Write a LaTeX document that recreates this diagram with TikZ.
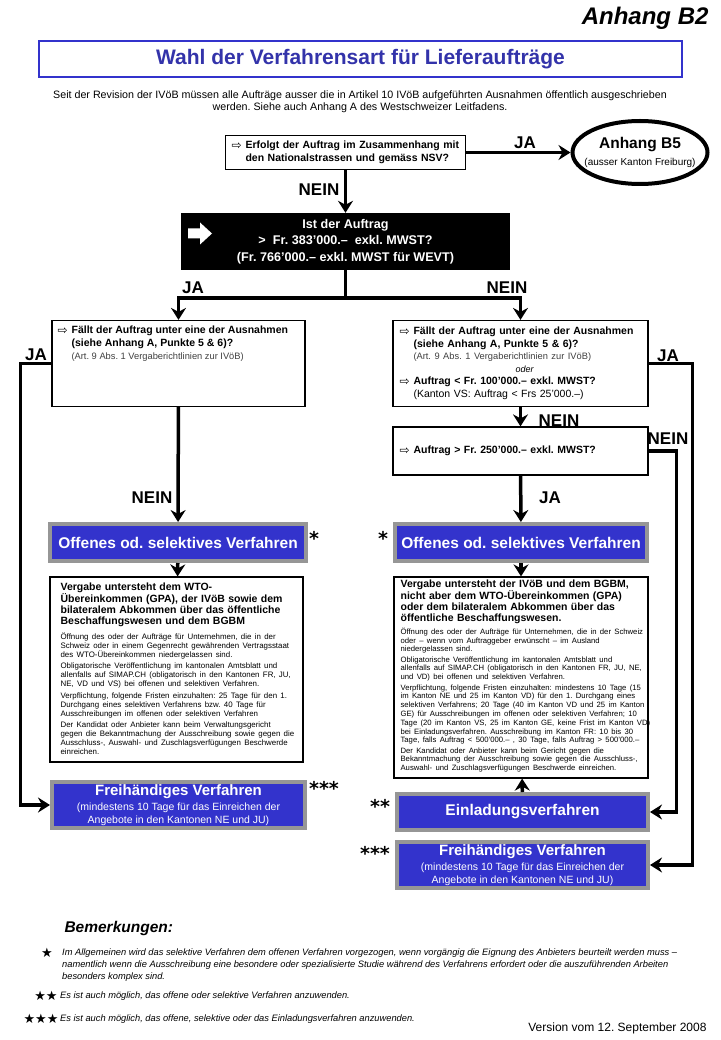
\documentclass[tikz,border=0pt]{standalone}
\usepackage{fontspec}
\setmainfont{Liberation Sans}
\newfontfamily\symfont{DejaVu Sans}
\usetikzlibrary{arrows.meta,shapes.geometric}
\definecolor{procblue}{RGB}{51,51,204}
\definecolor{procgray}{RGB}{150,150,150}
\definecolor{titleblue}{RGB}{51,51,170}
\newcommand{\fs}[2]{\fontsize{#1}{#2}\selectfont}
\newcommand{\hint}{\makebox[14pt][l]{\mdseries\symfont\fs{12}{12}\raisebox{-0.5pt}{⇨}}}
\newcommand{\ind}{\hspace*{14pt}}
\setlength{\parindent}{0pt}
\frenchspacing

\begin{document}
\begin{tikzpicture}[x=1pt, y=-1pt,
  qbox/.style={draw, line width=1.2pt, fill=white, inner sep=0pt},
  info/.style={draw, line width=1.2pt, inner sep=0pt},
  txt/.style={inner sep=0pt, anchor=north west, align=left},
  proc/.style={draw=procgray, line width=4pt, fill=procblue, text=white,
    inner sep=0pt, align=center},
  lbl/.style={font=\bfseries\fs{17}{17}, inner sep=0pt},
  star/.style={font=\symfont\bfseries\fs{19}{19}, inner sep=0pt},
  wire/.style={line width=3.5pt},
  flow/.style={wire, -{Stealth[length=12pt, width=15pt, inset=4pt]}}]
\fill[white] (0,0) rectangle (720,1040);
% header
\node[font=\bfseries\itshape\fs{24}{24}, anchor=east] (appx) at (712,18) {Anhang B2};
\node[draw=procblue, line width=2pt, minimum width=643pt, minimum height=36pt,
  text=titleblue, font=\bfseries\fs{21}{21}] (title) at (360.5,59)
  {Wahl der Verfahrensart für Lieferaufträge};
\node[align=center, font=\fs{10.7}{11.5}] (intro) at (360,101.5)
  {Seit der Revision der IVöB müssen alle Aufträge ausser die in Artikel 10 IVöB aufgeführten Ausnahmen öffentlich ausgeschrieben\\
   werden. Siehe auch Anhang A des Westschweizer Leitfadens.};
% first questions
\node[qbox, minimum width=240pt, minimum height=34pt, text width=228pt, align=left,
  font=\bfseries\fs{10.5}{13}] (nsv) at (345.5,152.5)
  {\hint Erfolgt der Auftrag im Zusammenhang mit\\
   \ind den Nationalstrassen und gemäss NSV?};
\node[ellipse, draw, line width=4pt, minimum width=135pt, minimum height=63pt,
  inner sep=0pt] (b5) at (640,152.5) {};
\node[align=center, inner sep=0pt, font=\fs{10}{17}] (b5Txt) at (b5.center)
  {{\bfseries\fs{15.5}{17}Anhang B5}\\ (ausser Kanton Freiburg)};
\node[fill=black, minimum width=329pt, minimum height=57pt, text=white, align=center,
  font=\bfseries\fs{12.6}{16.5}] (limit) at (345.5,241.5)
  {Ist der Auftrag\\ >\ \ Fr. 383’000.–\ \ exkl. MWST?\\ (Fr. 766’000.– exkl. MWST für WEVT)};
% white block arrow in the black box
\fill[white] (188,228.5) -- (200,228.5) -- (200,222.5) -- (212,233.5) -- (200,244.5)
  -- (200,238.5) -- (188,238.5) -- cycle;
\coordinate (split) at (345.5,298);
% exceptions
\node[qbox, minimum width=253pt, minimum height=86pt] (exLeft) at (178.5,363.5) {};
\node[txt, font=\bfseries\fs{10.5}{12.7}] (exLeftTxt) at ([xshift=6pt, yshift=-6pt]exLeft.north west)
  {\hint Fällt der Auftrag unter eine der Ausnahmen\\
   \ind (siehe Anhang A, Punkte 5 \& 6)?\\
   \ind{\mdseries\color{darkgray}\fs{9.3}{12.7}(Art. 9 Abs. 1 Vergaberichtlinien zur IVöB)}};
\node[qbox, minimum width=255pt, minimum height=86pt, text width=242pt, align=left,
  font=\bfseries\fs{10.5}{12.5}] (exRight) at (520.5,363.5)
  {\hint Fällt der Auftrag unter eine der Ausnahmen\\
   \ind (siehe Anhang A, Punkte 5 \& 6)?\\
   \ind{\mdseries\color{darkgray}\fs{9.3}{12.5}(Art. 9 Abs. 1 Vergaberichtlinien zur IVöB)}\\
   \makebox[250pt]{\mdseries\itshape\fs{9}{12.5}oder}\\
   \hint Auftrag < Fr. 100’000.– exkl. MWST?\\
   \ind{\mdseries\fs{10.5}{12.5}(Kanton VS: Auftrag < Frs 25’000.–)}};
\node[qbox, minimum width=255pt, minimum height=48pt, text width=242pt, align=left,
  font=\bfseries\fs{10.5}{12.5}] (thresh) at (520.5,451)
  {\hint Auftrag > Fr. 250’000.– exkl. MWST?};
% procedures
\node[proc, minimum width=256pt, minimum height=37pt, font=\bfseries\fs{15.5}{18}] (offL) at (178,542.5)
  {Offenes od. selektives Verfahren};
\node[proc, minimum width=252pt, minimum height=37pt, font=\bfseries\fs{15.5}{18}] (offR) at (521,542.5)
  {Offenes od. selektives Verfahren};
\node[info, minimum width=253pt, minimum height=185pt] (infoL) at (176.5,669.5) {};
\node[txt, text width=250pt] (infoLTxt) at ([xshift=11pt, yshift=-6pt]infoL.north west)
  {{\bfseries\fs{10.5}{11}Vergabe untersteht dem WTO-\\
    Übereinkommen (GPA), der IVöB sowie dem\\
    bilateralem Abkommen über das öffentliche\\
    Beschaffungswesen und dem BGBM\par}
   \vspace{6pt}
   {\fs{7.9}{9}Öffnung des oder der Aufträge für Unternehmen, die in der\\
    Schweiz oder in einem Gegenrecht gewährenden Vertragsstaat\\
    des WTO-Übereinkommen niedergelassen sind.\par
    \vspace{2.5pt}
    Obligatorische Veröffentlichung im kantonalen Amtsblatt und\\
    allenfalls auf SIMAP.CH (obligatorisch in den Kantonen FR, JU,\\
    NE, VD und VS) bei offenen und selektiven Verfahren.\par
    \vspace{2.5pt}
    Verpflichtung, folgende Fristen einzuhalten: 25 Tage für den 1.\\
    Durchgang eines selektiven Verfahrens bzw. 40 Tage für\\
    Ausschreibungen im offenen oder selektiven Verfahren\par
    \vspace{2.5pt}
    Der Kandidat oder Anbieter kann beim Verwaltungsgericht\\
    gegen die Bekanntmachung der Ausschreibung sowie gegen die\\
    Ausschluss-, Auswahl- und Zuschlagsverfügungen Beschwerde\\
    einreichen.\par}};
\node[info, minimum width=254pt, minimum height=201pt] (infoR) at (521,677.5) {};
\node[txt, text width=260pt] (infoRTxt) at ([xshift=7pt, yshift=-3pt]infoR.north west)
  {{\bfseries\fs{10.5}{11}Vergabe untersteht der IVöB und dem BGBM,\\
    nicht aber dem WTO-Übereinkommen (GPA)\\
    oder dem bilateralem Abkommen über das\\
    öffentliche Beschaffungswesen.\par}
   \vspace{4pt}
   {\fs{7.7}{8.8}Öffnung des oder der Aufträge für Unternehmen, die in der Schweiz\\
    oder – wenn vom Auftraggeber erwünscht – im Ausland\\
    niedergelassen sind.\par
    \vspace{1.5pt}
    Obligatorische Veröffentlichung im kantonalen Amtsblatt und\\
    allenfalls auf SIMAP.CH (obligatorisch in den Kantonen FR, JU, NE,\\
    und VD) bei offenen und selektiven Verfahren.\par
    \vspace{1.5pt}
    Verpflichtung, folgende Fristen einzuhalten: mindestens 10 Tage (15\\
    im Kanton NE und 25 im Kanton VD) für den 1. Durchgang eines\\
    selektiven Verfahrens; 20 Tage (40 im Kanton VD und 25 im Kanton\\
    GE) für Ausschreibungen im offenen oder selektiven Verfahren; 10\\
    Tage (20 im Kanton VS, 25 im Kanton GE, keine Frist im Kanton VD)\\
    bei Einladungsverfahren. Ausschreibung im Kanton FR: 10 bis 30\\
    Tage, falls Auftrag < 500’000.– , 30 Tage, falls Auftrag > 500’000.–\par
    \vspace{1.5pt}
    Der Kandidat oder Anbieter kann beim Gericht gegen die\\
    Bekanntmachung der Ausschreibung sowie gegen die Ausschluss-,\\
    Auswahl- und Zuschlagsverfügungen Beschwerde einreichen.\par}};
\node[proc, minimum width=253pt, minimum height=46pt, font=\fs{10.5}{13}] (freiL) at (178.5,805)
  {{\bfseries\fs{15}{16}Freihändiges Verfahren}\\[2pt]
   (mindestens 10 Tage für das Einreichen der\\ Angebote in den Kantonen NE und JU)};
\node[proc, minimum width=251pt, minimum height=36pt, font=\bfseries\fs{15.5}{18}] (einl) at (522.5,812)
  {Einladungsverfahren};
\node[proc, minimum width=251pt, minimum height=46pt, font=\fs{10.5}{13}] (freiR) at (522.5,865)
  {{\bfseries\fs{15}{16}Freihändiges Verfahren}\\[2pt]
   (mindestens 10 Tage für das Einreichen der\\ Angebote in den Kantonen NE und JU)};
% stars
\node[star] (starOffL) at (314,538) {*};
\node[star] (starOffR) at (383,538) {*};
\node[star] (starFreiL) at (324,788) {***};
\node[star] (starEinl) at (380,806) {**};
\node[star] (starFreiR) at (375,853) {***};
% connectors
\draw[flow] (nsv) -- (b5);
\node[lbl] (jaB5) at (525,143) {JA};
\draw[flow] (nsv) -- (limit);
\node[lbl] (neinLimit) at (319,190) {NEIN};
\draw[flow] (limit.south) -- (split) -| (exLeft.north);
\draw[flow] (split) -| (exRight.north);
\node[lbl] (jaSplit) at (193,288) {JA};
\node[lbl] (neinSplit) at (507,288) {NEIN};
\draw[flow] (exLeft.west) -- ++(-31,0) |- (freiL.west);
\node[lbl] (jaLeft) at (36,355) {JA};
\draw[flow] (exLeft) -- (offL);
\node[lbl] (neinLeft) at (152,498) {NEIN};
\draw[flow] (exRight.east) -- ++(44,0) |- (freiR.east);
\node[lbl] (jaRight) at (668,356) {JA};
\draw[flow] (exRight) -- (thresh);
\node[lbl] (neinThresh) at (559,421) {NEIN};
\draw[flow] (thresh.east) -- ++(28,0) |- (einl.east);
\node[lbl] (neinRight) at (668,439) {NEIN};
\draw[flow] (thresh) -- (offR);
\node[lbl] (jaThresh) at (550,498) {JA};
\draw[flow] (offL) -- (infoL);
\draw[flow] (offR) -- (infoR);
\draw[flow] (einl) -- (infoR);
% remarks
\node[font=\bfseries\itshape\fs{15.5}{16}, anchor=west] (remarks) at (61,928) {Bemerkungen:};
\node[font=\symfont\fs{13}{13}, inner sep=0pt] (fnStarA) at (47,953) {★};
\node[txt, font=\itshape\fs{9.3}{11.8}] (fnA) at (62,949)
  {Im Allgemeinen wird das selektive Verfahren dem offenen Verfahren vorgezogen, wenn vorgängig die Eignung des Anbieters beurteilt werden muss –\\
   namentlich wenn die Ausschreibung eine besondere oder spezialisierte Studie während des Verfahrens erfordert oder die auszuführenden Arbeiten\\
   besonders komplex sind.};
\node[font=\symfont\fs{13}{13}, inner sep=0pt] (fnStarB) at (46,996) {★★};
\node[txt, font=\itshape\fs{9.3}{11.8}] (fnB) at (60,992)
  {Es ist auch möglich, das offene oder selektive Verfahren anzuwenden.};
\node[font=\symfont\fs{13}{13}, inner sep=0pt] (fnStarC) at (41,1019) {★★★};
\node[txt, font=\itshape\fs{9.3}{11.8}] (fnC) at (60,1015)
  {Es ist auch möglich, das offene, selektive oder das Einladungsverfahren anzuwenden.};
\node[font=\fs{12}{12}, anchor=east] (version) at (710,1028) {Version vom 12. September 2008};
\end{tikzpicture}
\end{document}
